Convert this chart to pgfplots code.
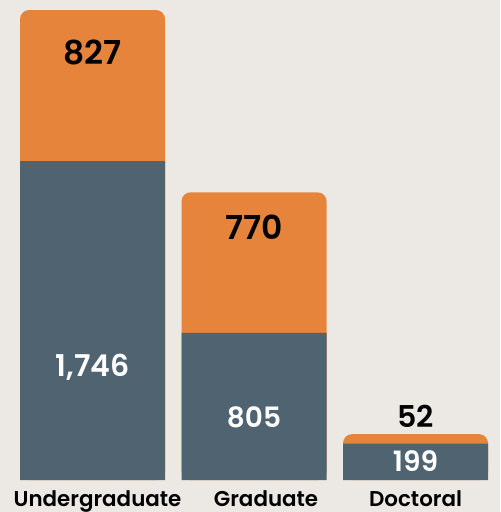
\documentclass[border=0pt]{standalone}
\usepackage{fontspec}
\setmainfont{Poppins}[BoldFont={Poppins SemiBold}]
\usepackage{pgfplots}
\pgfplotsset{compat=1.18}
\definecolor{bg}{HTML}{ECE9E4}
\definecolor{orng}{HTML}{E6843B}
\definecolor{slate}{HTML}{506371}
\begin{document}
\begin{tikzpicture}
\fill[bg] (0,-16pt) rectangle (250pt,240pt);
\begin{axis}[
  at={(0,0)}, anchor=south west,
  scale only axis, width=250pt, height=240pt,
  xmin=-0.573, xmax=2.523, ymin=0, ymax=2628,
  axis line style={draw=none}, major tick style={draw=none},
  ytick=\empty,
  xtick={0,1,2},
  xticklabels={\hspace*{5pt}Undergraduate,\hspace*{12pt}Graduate,Doctoral},
  xticklabel style={anchor=base, yshift=-13pt, font=\bfseries\fontsize{10.7pt}{12pt}\selectfont, text=black, inner sep=0pt},
  clip=false,
]
\addplot[ybar, bar width=0.898, bar shift=0pt, fill=orng, draw=none, rounded corners=4.5pt]
  coordinates {(0,2573) (1,1575) (2,251)};
\addplot[ybar, bar width=0.898, bar shift=0pt, fill=slate, draw=none]
  coordinates {(0,1746) (1,805) (2,199)};
\begin{scope}[every node/.style={anchor=base, inner sep=0pt}]
\node[font=\bfseries\fontsize{16.5pt}{18pt}\selectfont, text=black] at (axis cs:0,2276) {827};
\node[font=\bfseries\fontsize{16.5pt}{18pt}\selectfont, text=black] at (axis cs:1,1314) {770};
\node[font=\bfseries\fontsize{15pt}{18pt}\selectfont, text=black] at (axis cs:2,290) {52};
\node[font=\bfseries\fontsize{15pt}{18pt}\selectfont, text=white] at (axis cs:0,564) {1,746};
\node[font=\bfseries\fontsize{14pt}{18pt}\selectfont, text=white] at (axis cs:1,288) {805};
\node[font=\bfseries\fontsize{14pt}{18pt}\selectfont, text=white] at (axis cs:2,45) {199};
\end{scope}
\end{axis}
\pgfresetboundingbox
\path[use as bounding box] (0,-16pt) rectangle (250pt,240pt);
\end{tikzpicture}
\end{document}
